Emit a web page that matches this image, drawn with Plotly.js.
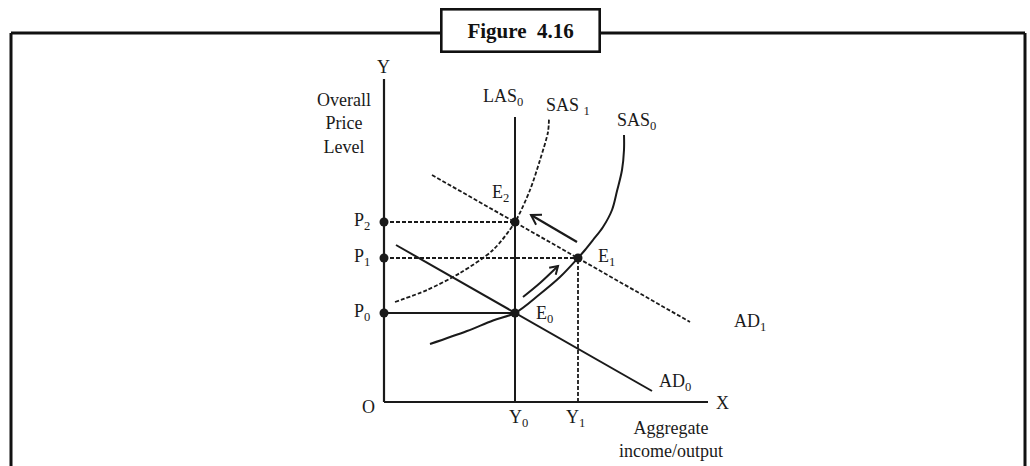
<!DOCTYPE html>
<html>
<head>
<meta charset="utf-8">
<script src="https://cdn.plot.ly/plotly-3.0.1.min.js"></script>
<style>
  html, body { margin: 0; padding: 0; background: #fff; }
  #chart { width: 1030px; height: 466px; }
</style>
</head>
<body>
<div id="chart"></div>
<script>
// ---------- data (economic units: output on x, price level on y, origin O) ----------
const priceLabels = ['P<sub>0</sub>', 'P<sub>1</sub>', 'P<sub>2</sub>'];
const priceValues = [89, 144, 180];
const outputLabels = ['Y<sub>0</sub>', 'Y<sub>1</sub>'];
const outputValues = [131, 194];

const axisYTop = 323;
const axisXEnd = 324;
const lasTop = 285;

const ad0X = [12, 268];
const ad0Y = [157, 11];
const ad1X = [48, 306];
const ad1Y = [227, 80];

const sas0X = [46, 83, 109, 131, 156, 176, 194, 201, 209, 219, 228, 233, 238, 240, 240];
const sas0Y = [58, 71, 81.5, 89, 108, 125, 144, 152, 162, 175, 192, 211, 232, 252, 267];

const sas1X = [11, 43, 76, 109, 131, 146, 156, 164, 165];
const sas1Y = [100, 112, 129, 152, 180, 212, 242, 270, 284];

const shiftArrowX = [193, 147];
const shiftArrowY = [160, 187];
const curveArrowX = [139, 156, 174];
const curveArrowY = [105, 119, 136];

// ---------- helpers ----------
const FONT = 'Liberation Serif, Times New Roman, serif';
const INK = '#1a1a1a';

function line(x, y, opts) {
  opts = opts || {};
  return {
    type: 'scatter', mode: 'lines', x: x, y: y, hoverinfo: 'skip',
    line: { color: INK, width: opts.width || 2, dash: opts.dash || 'solid', shape: opts.shape || 'linear', smoothing: opts.smoothing || 1 },
    showlegend: false
  };
}

// open V arrowhead built from the last two points of an arrow path
function arrowHead(xs, ys, len, angDeg) {
  const n = xs.length;
  const tx = xs[n - 1], ty = ys[n - 1];
  const dx = xs[n - 2] - tx, dy = ys[n - 2] - ty;
  const d = Math.hypot(dx, dy);
  const ux = dx / d, uy = dy / d;
  const a = angDeg * Math.PI / 180;
  const r1x = ux * Math.cos(a) - uy * Math.sin(a), r1y = ux * Math.sin(a) + uy * Math.cos(a);
  const r2x = ux * Math.cos(-a) - uy * Math.sin(-a), r2y = ux * Math.sin(-a) + uy * Math.cos(-a);
  return line([tx + r1x * len, tx, tx + r2x * len], [ty + r1y * len, ty, ty + r2y * len], { width: 2 });
}

const P0 = priceValues[0], P1 = priceValues[1], P2 = priceValues[2];
const Y0 = outputValues[0], Y1 = outputValues[1];

const traces = [
  // axes
  line([0, 0], [axisYTop, 0], { width: 2.2 }),
  line([0, axisXEnd], [0, 0], { width: 2.2 }),
  // LAS0
  line([Y0, Y0], [0, lasTop], { width: 2 }),
  // guide lines
  line([0, Y0], [P2, P2], { dash: '4px,2px', width: 1.8 }),
  line([0, Y1], [P1, P1], { dash: '4px,2px', width: 1.8 }),
  line([0, Y0], [P0, P0], { width: 2 }),
  line([Y1, Y1], [0, P1], { dash: '4px,2px', width: 1.8 }),
  // demand curves
  line(ad0X, ad0Y, { width: 2 }),
  line(ad1X, ad1Y, { dash: '4px,2px', width: 1.8 }),
  // supply curves
  line(sas0X, sas0Y, { width: 2, shape: 'spline', smoothing: 1 }),
  line(sas1X, sas1Y, { dash: '4px,2px', width: 1.8, shape: 'spline', smoothing: 0.8 }),
  // arrows
  line(shiftArrowX, shiftArrowY, { width: 2.2 }),
  arrowHead(shiftArrowX, shiftArrowY, 11, 32),
  line(curveArrowX, curveArrowY, { width: 2, shape: 'spline' }),
  arrowHead(curveArrowX, curveArrowY, 9, 32),
  // dots
  {
    type: 'scatter', mode: 'markers', hoverinfo: 'skip', showlegend: false,
    x: [0, 0, 0, Y0, Y1, Y0],
    y: [P0, P1, P2, P0, P1, P2],
    marker: { color: INK, size: 9 }
  }
];

function label(text, x, y, opts) {
  opts = opts || {};
  return {
    text: text, x: x, y: y, xref: 'x', yref: 'y', showarrow: false,
    xanchor: opts.xanchor || 'center', yanchor: opts.yanchor || 'middle',
    align: opts.align || 'center',
    font: { family: FONT, size: opts.size || 18, color: INK }
  };
}

const annotations = [
  label('Y', -1, axisYTop + 12),
  label('Overall<br>Price<br>Level', -40, 279),
  label(priceLabels[0], -22, P0 + 1),
  label(priceLabels[1], -22, P1 + 1),
  label(priceLabels[2], -22, P2 + 1),
  label('O', -16, -5),
  label(outputLabels[0], Y0 + 3, -16),
  label(outputLabels[1], Y1 - 3, -16),
  label('X', 338, -1),
  label('Aggregate<br>income/output', 287, -37),
  label('AD<sub>0</sub>', 291, 20),
  label('AD<sub>1</sub>', 366, 80),
  label('E<sub>0</sub>', 160, 88),
  label('E<sub>1</sub>', 222, 145),
  label('E<sub>2</sub>', 116, 209),
  label('LAS<sub>0</sub>', 119, 305),
  label('SAS <sub>1</sub>', 184, 296),
  label('SAS<sub>0</sub>', 252, 281),
  {
    text: '<b>Figure  4.16</b>', xref: 'paper', yref: 'paper',
    x: 520.5 / 1030, y: 1 - 30.5 / 466, xanchor: 'center', yanchor: 'middle',
    showarrow: false, width: 154, height: 38, borderpad: 1,
    bordercolor: '#111', borderwidth: 2.6, bgcolor: '#fff',
    font: { family: FONT, size: 21, color: '#111' }
  }
];

const frameTop = 1 - 33 / 466;
const shapes = [
  { type: 'line', xref: 'paper', yref: 'paper', x0: 11 / 1030, x1: 1025 / 1030, y0: frameTop, y1: frameTop, line: { color: '#111', width: 3 } },
  { type: 'line', xref: 'paper', yref: 'paper', x0: 11 / 1030, x1: 11 / 1030, y0: frameTop, y1: -0.05, line: { color: '#111', width: 3 } },
  { type: 'line', xref: 'paper', yref: 'paper', x0: 1025 / 1030, x1: 1025 / 1030, y0: frameTop, y1: -0.05, line: { color: '#111', width: 3 } }
];

const layout = {
  width: 1030, height: 466,
  margin: { l: 0, r: 0, t: 0, b: 0, pad: 0 },
  paper_bgcolor: '#fff', plot_bgcolor: '#fff',
  showlegend: false,
  xaxis: { range: [-384, 646], visible: false, fixedrange: true },
  yaxis: { range: [-64, 402], visible: false, fixedrange: true },
  annotations: annotations,
  shapes: shapes
};

Plotly.newPlot('chart', traces, layout, { staticPlot: true, displayModeBar: false });
</script>
</body>
</html>
